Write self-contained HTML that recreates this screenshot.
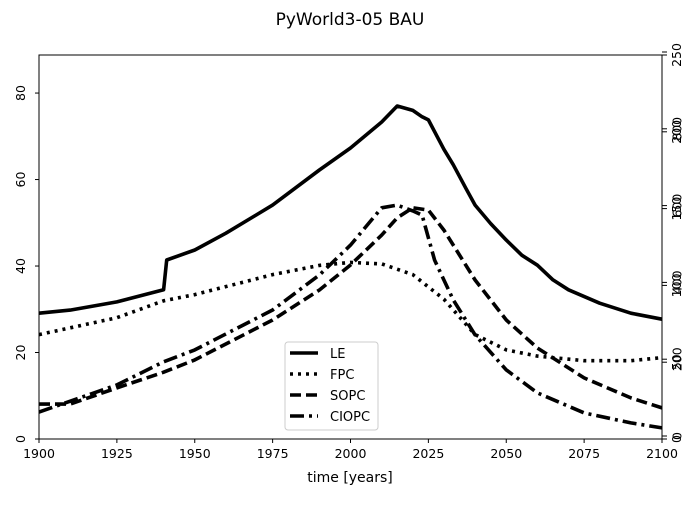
<!DOCTYPE html>
<html><head><meta charset="utf-8"><style>
body{margin:0;background:#fff;font-family:"Liberation Sans","DejaVu Sans",sans-serif}
svg text{font-family:"DejaVu Sans","Liberation Sans",sans-serif}
</style></head><body>
<svg id="c" width="700" height="500"></svg>
<script>
const years=[1900,1910,1925,1940,1941,1950,1960,1975,1990,2000,2010,2015,2020,2023,2025,2030,2033,2037,2040,2045,2050,2055,2060,2065,2070,2080,2090,2100];
const le=[29.1,29.8,31.7,34.5,41.4,43.7,47.6,54.1,62.2,67.3,73.3,77,76,74.5,73.8,67,63.4,58,54.1,49.8,46,42.5,40.2,36.8,34.5,31.4,29.1,27.7];
const fpcYears=[1900,1925,1940,1950,1975,1990,2000,2010,2020,2030,2040,2050,2060,2075,2090,2100];
const fpc=[68,79,90,94,107,113,115,114,107,91,68,58,54,51,51,53];
const sopcYears=[1900,1910,1925,1940,1950,1975,1990,2000,2010,2015,2020,2025,2030,2040,2050,2060,2075,2090,2100];
const sopc=[91,91,133,174,206,310,388,453,531,576,602,596,544,414,310,237,159,107,81];
const ciopcYears=[1900,1925,1940,1950,1975,1990,2000,2010,2015,2020,2023,2027,2033,2040,2050,2060,2075,2090,2100];
const ciopc=[70,141,201,232,336,427,505,602,609,594,583,466,362,271,180,120,68,42,29];
const xTicks=[1900,1925,1950,1975,2000,2025,2050,2075,2100];
const leTicks=[0,20,40,60,80];
const rTicks=[["0","0"],["50","200"],["100","400"],["150","600"],["200","800"],["250",""]];
const L=39,R=662,T=55,B=439;
const x=v=>L+(v-1900)/200*(R-L);
const yLE=v=>B-v*(B-T)/88.8;
const yF=v=>B-v*(B-T)/250;
const yS=v=>B-v*(B-T)/1000;
const s=document.getElementById('c');const NS='http://www.w3.org/2000/svg';
function el(t,a,txt){const e=document.createElementNS(NS,t);for(const k in a)e.setAttribute(k,a[k]);if(txt!==undefined)e.textContent=txt;s.appendChild(e);return e;}
let e;
e=el('text',{x:350,y:25,'text-anchor':'middle','font-size':17},'PyWorld3-05 BAU');


e=el('text',{x:350,y:482,'text-anchor':'middle','font-size':14},'time [years]');


function line(xs,vs,yf,dash,name){const d=xs.map((v,i)=>(i?'L':'M')+x(v).toFixed(1)+','+yf(vs[i]).toFixed(1)).join('');const p=el('path',{d:d,fill:'none',stroke:'#000','stroke-width':3.6,'stroke-linejoin':'round','stroke-dasharray':dash});

}
line(years,le,yLE,'none','le-line');
line(fpcYears,fpc,yF,'3,5','fpc-line');
line(sopcYears,sopc,yS,'11,5','sopc-line');
line(ciopcYears,ciopc,yS,'14,5,3,5','ciopc-line');
e=el('rect',{x:L,y:T,width:R-L,height:B-T,fill:'none',stroke:'#000','stroke-width':1});


xTicks.forEach(v=>{el('line',{x1:x(v),x2:x(v),y1:B,y2:B+4,stroke:'#000'});
e=el('text',{x:x(v),y:B+19,'text-anchor':'middle','font-size':12.5},v);

});
leTicks.forEach(v=>{const yy=yLE(v);el('line',{x1:L-4,x2:L,y1:yy,y2:yy,stroke:'#000'});
e=el('text',{x:0,y:0,'text-anchor':'middle','font-size':12.5,transform:`translate(25,${yy}) rotate(-90)`},v);

});
rTicks.forEach((t,i)=>{const yy=B-i*(B-T)/5;el('line',{x1:R,x2:R+5,y1:yy,y2:yy,stroke:'#000'});
el('line',{x1:R,x2:R+5,y1:yy-3,y2:yy-3,stroke:'#000'});
t.forEach((lab,j)=>{if(!lab)return;e=el('text',{x:0,y:0,'text-anchor':'middle','font-size':12.5,transform:`translate(${681+j*0.5},${yy-j*3}) rotate(-90)`},lab);

});});
const lg=[['LE','none'],['FPC','3,5'],['SOPC','11,5'],['CIOPC','14,5,3,5']];
e=el('rect',{x:285,y:342,width:93,height:88,fill:'#fff',stroke:'#ccc',rx:3});


lg.forEach((g,i)=>{const yy=353+i*21;el('line',{x1:290,x2:318,y1:yy,y2:yy,stroke:'#000','stroke-width':3.6,'stroke-dasharray':g[1]});
e=el('text',{x:330,y:yy+5,'font-size':13},g[0]);

});
</script>
</body></html>
